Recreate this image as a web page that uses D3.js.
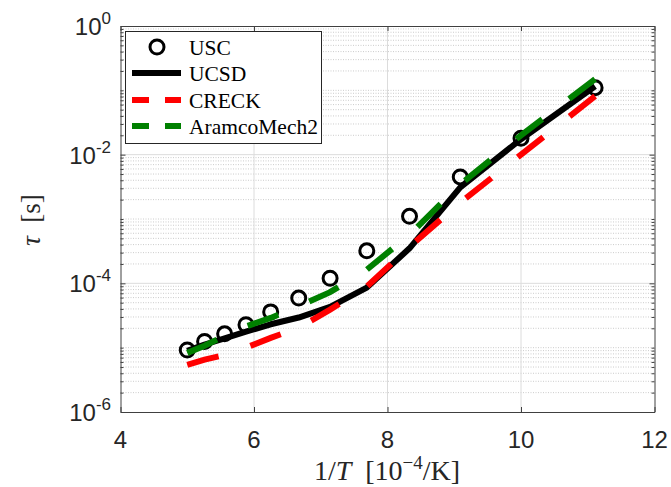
<!DOCTYPE html>
<html>
<head>
<meta charset="utf-8">
<script src="https://cdn.jsdelivr.net/npm/d3@7"></script>
<style>
  html, body { margin: 0; padding: 0; background: #fff; }
  svg { display: block; }
</style>
</head>
<body>
<svg id="chart" width="671" height="487"></svg>
<script>
// ---------- data ----------
const invT   = [5.0, 5.26, 5.56, 5.88, 6.25, 6.67, 7.14, 7.69, 8.33, 9.09, 10.0, 11.11];
const usc    = [9.2e-6, 1.25e-5, 1.64e-5, 2.27e-5, 3.6e-5, 5.9e-5, 1.2e-4, 3.2e-4, 1.1e-3, 4.5e-3, 1.8e-2, 1.1e-1];
const ucsd   = [8.9e-6, 1.12e-5, 1.4e-5, 1.77e-5, 2.31e-5, 2.94e-5, 4.3e-5, 8.6e-5, 3.5e-4, 3.1e-3, 1.74e-2, 1.16e-1];
const creck  = [5.4e-6, 6.5e-6, 7.7e-6, 1.0e-5, 1.42e-5, 2.04e-5, 3.9e-5, 8.9e-5, 3.7e-4, 1.8e-3, 1.0e-2, 8.1e-2];
const aramco = [8.3e-6, 1.07e-5, 1.53e-5, 2.14e-5, 2.9e-5, 4.4e-5, 7.3e-5, 1.63e-4, 5.7e-4, 3.45e-3, 2.0e-2, 1.49e-1];
const xTicks = [4, 6, 8, 10, 12];
const yTickExps = [0, -2, -4, -6];
const legendLabels = ["USC", "UCSD", "CRECK", "AramcoMech2"];

// ---------- layout ----------
const svg = d3.select("#chart");
const L = 120.5, R = 654.5, T = 26, B = 412;
const x = d3.scaleLinear().domain([4, 12]).range([L, R]);
const y = d3.scaleLog().domain([1e-6, 1]).range([B, T]);

const yMinor = [];
for (let e = -6; e < 0; e++) {
  for (let k = 1; k <= 9; k++) {
    if (k === 1 && yTickExps.includes(e)) continue;
    yMinor.push(k * Math.pow(10, e));
  }
}
const yMajor = yTickExps.map(e => Math.pow(10, e));

const grid = svg.append("g");
grid.selectAll("line.ymin").data(yMinor).join("line")
  .attr("x1", L).attr("x2", R)
  .attr("y1", d => y(d)).attr("y2", d => y(d))
  .attr("stroke", "#cccccc").attr("stroke-width", 1)
  .attr("stroke-dasharray", "1,1.5");
grid.selectAll("line.ymaj").data(yMajor.filter(v => v > 1e-6 && v < 1)).join("line")
  .attr("x1", L).attr("x2", R)
  .attr("y1", d => y(d)).attr("y2", d => y(d))
  .attr("stroke", "#dcdcdc").attr("stroke-width", 1);
grid.selectAll("line.xmaj").data(xTicks.filter(v => v > 4 && v < 12)).join("line")
  .attr("x1", d => x(d)).attr("x2", d => x(d))
  .attr("y1", T).attr("y2", B)
  .attr("stroke", "#dcdcdc").attr("stroke-width", 1);

// ---------- axes ----------
const axColor = "#404040";
const axG = svg.append("g");
axG.append("g").attr("transform", `translate(0,${B})`)
  .call(d3.axisBottom(x).tickValues(xTicks).tickSizeInner(-5).tickSizeOuter(0).tickFormat(""))
  .call(g => g.selectAll("line,path").attr("stroke", axColor));
axG.append("g").attr("transform", `translate(0,${T})`)
  .call(d3.axisTop(x).tickValues(xTicks).tickSizeInner(-5).tickSizeOuter(0).tickFormat(""))
  .call(g => g.selectAll("line,path").attr("stroke", axColor));
axG.append("g").attr("transform", `translate(${L},0)`)
  .call(d3.axisLeft(y).tickValues(yMajor).tickSizeInner(-5).tickSizeOuter(0).tickFormat(""))
  .call(g => g.selectAll("line,path").attr("stroke", axColor));
axG.append("g").attr("transform", `translate(${R},0)`)
  .call(d3.axisRight(y).tickValues(yMajor).tickSizeInner(-5).tickSizeOuter(0).tickFormat(""))
  .call(g => g.selectAll("line,path").attr("stroke", axColor));
axG.append("g").attr("transform", `translate(${L},0)`)
  .call(d3.axisLeft(y).tickValues(yMinor).tickSizeInner(-3).tickSizeOuter(0).tickFormat(""))
  .call(g => g.select("path").remove())
  .call(g => g.selectAll("line").attr("stroke", axColor));
axG.append("g").attr("transform", `translate(${R},0)`)
  .call(d3.axisRight(y).tickValues(yMinor).tickSizeInner(-3).tickSizeOuter(0).tickFormat(""))
  .call(g => g.select("path").remove())
  .call(g => g.selectAll("line").attr("stroke", axColor));

// tick labels
const tickFont = "'Liberation Sans', Arial, Helvetica, sans-serif";
svg.append("g").selectAll("text").data(xTicks).join("text")
  .attr("x", d => x(d)).attr("y", 448)
  .attr("text-anchor", "middle")
  .attr("font-family", tickFont).attr("font-size", 24).attr("fill", "#262626")
  .text(d => d);
const yl = svg.append("g").selectAll("text").data(yTickExps).join("text")
  .attr("x", 111).attr("y", d => y(Math.pow(10, d)) + 9)
  .attr("text-anchor", "end")
  .attr("font-family", tickFont).attr("font-size", 24).attr("fill", "#262626");
yl.append("tspan").text("10");
yl.append("tspan").attr("dy", -11).attr("font-size", 17).text(d => d === 0 ? "0" : "-" + Math.abs(d));

// axis titles
const serif = "'Liberation Serif', 'Times New Roman', serif";
const xt = svg.append("text").attr("x", 387).attr("y", 480).attr("text-anchor", "middle")
  .attr("font-family", serif).attr("font-size", 28).attr("fill", "#262626");
xt.append("tspan").text("1/");
xt.append("tspan").attr("font-style", "italic").text("T");
xt.append("tspan").text("\u2002[10");
xt.append("tspan").attr("dy", -11).attr("font-size", 19).text("\u22124");
xt.append("tspan").attr("dy", 11).text("/K]");

const ytt = svg.append("text").attr("transform", "translate(40,220) rotate(-90)")
  .attr("text-anchor", "middle")
  .attr("font-family", serif).attr("font-size", 27).attr("fill", "#262626");
ytt.append("tspan").attr("font-style", "italic").text("\u03C4");
ytt.append("tspan").text("\u2002[s]");

// ---------- data marks ----------
const plotG = svg.append("g");
const pts = arr => invT.map((v, i) => [v, arr[i]]);
const line = d3.line().x(d => x(d[0])).y(d => y(d[1]));

plotG.selectAll("circle").data(pts(usc)).join("circle")
  .attr("cx", d => x(d[0])).attr("cy", d => y(d[1])).attr("r", 7)
  .attr("fill", "none").attr("stroke", "#000").attr("stroke-width", 3);

plotG.append("path").datum(pts(ucsd)).attr("d", line)
  .attr("fill", "none").attr("stroke", "#000").attr("stroke-width", 6)
  .attr("stroke-linejoin", "round");

// dashed series: fit 8 dashes so the last dash ends at the final point
function dashed(arr, color) {
  const p = plotG.append("path").datum(pts(arr)).attr("d", line)
    .attr("fill", "none").attr("stroke", color).attr("stroke-width", 6);
  const len = p.node().getTotalLength();
  const ratio = 31 / 32, n = 8;
  const gap = len / (n * ratio + (n - 1));
  p.attr("stroke-dasharray", `${(gap * ratio).toFixed(2)},${gap.toFixed(2)}`);
}
dashed(creck, "#ff0000");
dashed(aramco, "#008000");

// ---------- legend ----------
const lg = svg.append("g");
lg.append("rect").attr("x", 125.5).attr("y", 31.5).attr("width", 196).attr("height", 112)
  .attr("fill", "#fff").attr("stroke", "#262626").attr("stroke-width", 1);
const rowY = [47, 73, 100, 126];
const styles = [
  {type: "circle"},
  {type: "line", color: "#000", dash: null},
  {type: "line", color: "#ff0000", dash: "17,16"},
  {type: "line", color: "#008000", dash: "17,16"}
];
legendLabels.forEach((lab, i) => {
  const s = styles[i];
  if (s.type === "circle") {
    lg.append("circle").attr("cx", 157).attr("cy", rowY[i]).attr("r", 7)
      .attr("fill", "none").attr("stroke", "#000").attr("stroke-width", 3);
  } else {
    lg.append("line").attr("x1", 132).attr("x2", 181).attr("y1", rowY[i]).attr("y2", rowY[i])
      .attr("stroke", s.color).attr("stroke-width", 6)
      .attr("stroke-dasharray", s.dash);
  }
  lg.append("text").attr("x", 189).attr("y", rowY[i] + 7.5)
    .attr("font-family", serif).attr("font-size", 21.5).attr("fill", "#000")
    .text(lab);
});
</script>
</body>
</html>
